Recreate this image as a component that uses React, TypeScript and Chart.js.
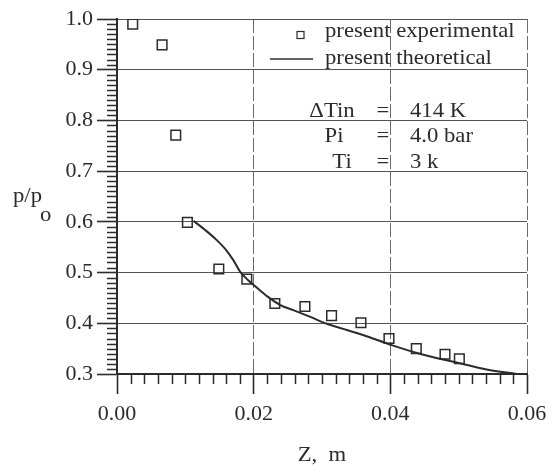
import React, { useEffect, useRef } from 'react';
import { Chart, registerables } from 'chart.js';

Chart.register(...registerables);

// Measured pressure ratio along the channel
const expZ = [0.0023, 0.0066, 0.0086, 0.0103, 0.0149, 0.019, 0.0231, 0.0275, 0.0314, 0.0357, 0.0398, 0.0438, 0.048, 0.0501];
const expP = [0.99, 0.949, 0.771, 0.599, 0.507, 0.487, 0.439, 0.433, 0.415, 0.401, 0.37, 0.35, 0.339, 0.33];

// Model prediction
const theoZ = [0.0112, 0.0129, 0.0146, 0.016, 0.017, 0.018, 0.0192, 0.0204, 0.0221, 0.0239, 0.0258, 0.0282, 0.0307, 0.0331, 0.036, 0.0402, 0.0443, 0.0492, 0.0541, 0.0585];
const theoP = [0.602, 0.584, 0.564, 0.544, 0.525, 0.502, 0.485, 0.471, 0.452, 0.436, 0.426, 0.413, 0.399, 0.389, 0.377, 0.357, 0.34, 0.324, 0.309, 0.3];

const seriesLabels = ['present experimental', 'present theoretical'];

// Inlet conditions shown in the plot
const paramNames = ['\u0394Tin', 'Pi', 'Ti'];
const paramValues = ['414 K', '4.0 bar', '3 k'];

const FONT = "'Liberation Serif', 'Times New Roman', serif";
const INK = '#2b2b2b';
const STRETCH = 1.08;

// Text drawn slightly wide, like the typeset labels of the figure
function wideText(ctx: CanvasRenderingContext2D, text: string, x: number, y: number, align: CanvasTextAlign) {
  ctx.save();
  ctx.translate(x, y);
  ctx.scale(STRETCH, 1);
  ctx.textAlign = align;
  ctx.fillText(text, 0, 0);
  ctx.restore();
}

const decorPlugin = {
  id: 'decor',
  afterDraw(chart: any) {
    const { ctx, chartArea, scales } = chart;
    const xs = scales.x;
    const ys = scales.y;
    ctx.save();
    // minor ticks
    ctx.strokeStyle = INK;
    ctx.lineWidth = 1.5;
    ctx.beginPath();
    for (let i = 30; i <= 100; i++) {
      if (i % 10 === 0) continue;
      const py = Math.round(ys.getPixelForValue(i / 100)) + 0.5;
      ctx.moveTo(chartArea.left - 10, py);
      ctx.lineTo(chartArea.left, py);
    }
    for (let i = 0; i <= 30; i++) {
      if (i % 10 === 0) continue;
      const px = Math.round(xs.getPixelForValue(i * 0.002)) + 0.5;
      ctx.moveTo(px, chartArea.bottom);
      ctx.lineTo(px, chartArea.bottom + 10);
    }
    ctx.stroke();

    ctx.fillStyle = INK;
    ctx.font = `21px ${FONT}`;
    ctx.textBaseline = 'alphabetic';

    // axis titles
    wideText(ctx, 'p/p', 13, 202, 'left');
    wideText(ctx, 'o', 40, 221, 'left');
    wideText(ctx, 'Z,  m', (chartArea.left + chartArea.right) / 2, 461, 'center');

    // legend
    const ds = chart.data.datasets;
    ctx.lineWidth = 1.2;
    ctx.strokeRect(297, 31.5, 7, 7);
    ctx.lineWidth = 1.6;
    ctx.beginPath();
    ctx.moveTo(270, 59);
    ctx.lineTo(313, 59);
    ctx.stroke();
    wideText(ctx, ds[1].label, 325, 37, 'left');
    wideText(ctx, ds[0].label, 325, 64, 'left');

    // parameters
    const nameX = [332, 334, 342];
    const rowY = [117, 142, 168];
    paramNames.forEach((n, i) => {
      wideText(ctx, n, nameX[i], rowY[i], 'center');
      wideText(ctx, '=', 383, rowY[i], 'center');
      wideText(ctx, paramValues[i], 410, rowY[i], 'left');
    });
    ctx.restore();
  },
};

export default function App() {
  const ref = useRef<HTMLCanvasElement | null>(null);

  useEffect(() => {
    if (!ref.current) return;
    const chart = new Chart(ref.current, {
      type: 'scatter',
      data: {
        datasets: [
          {
            type: 'line',
            label: seriesLabels[1],
            data: theoZ.map((z, i) => ({ x: z, y: theoP[i] })),
            borderColor: INK,
            borderWidth: 2,
            pointRadius: 0,
            cubicInterpolationMode: 'monotone',
            fill: false,
          },
          {
            label: seriesLabels[0],
            data: expZ.map((z, i) => ({ x: z, y: expP[i] })),
            pointStyle: 'rect',
            pointRadius: 6.8,
            borderColor: INK,
            borderWidth: 1.5,
            backgroundColor: 'rgba(0,0,0,0)',
          },
        ],
      },
      options: {
        animation: false,
        responsive: true,
        maintainAspectRatio: false,
        layout: { padding: { top: 19, right: 33, left: 0, bottom: 0 } },
        plugins: { legend: { display: false }, tooltip: { enabled: false } },
        scales: {
          x: {
            type: 'linear',
            min: 0,
            max: 0.06,
            afterFit: (s: any) => {
              s.height = 98;
            },
            ticks: {
              stepSize: 0.02,
              padding: 7,
              color: INK,
              font: { family: FONT, size: 22 },
              callback: (v: any) => Number(v).toFixed(2),
            },
            grid: {
              color: '#6a6a6a',
              lineWidth: 1,
              tickLength: 20,
              tickColor: INK,
              tickWidth: 1.6,
            },
            border: { color: INK, width: 2, dash: [14, 3] },
          },
          y: {
            type: 'linear',
            min: 0.3,
            max: 1.0,
            afterFit: (s: any) => {
              s.width = 117;
            },
            ticks: {
              stepSize: 0.1,
              padding: 4,
              color: INK,
              font: { family: FONT, size: 22 },
              callback: (v: any) => Number(v).toFixed(1),
            },
            grid: {
              color: '#555',
              lineWidth: 1,
              tickLength: 20,
              tickColor: INK,
              tickWidth: 1.6,
            },
            border: { color: INK, width: 2 },
          },
        },
      },
      plugins: [decorPlugin],
    });
    return () => chart.destroy();
  }, []);

  return (
    <div style={{ position: 'fixed', left: 0, top: 0, width: 560, height: 472, background: '#fff' }}>
      <canvas ref={ref} />
    </div>
  );
}
